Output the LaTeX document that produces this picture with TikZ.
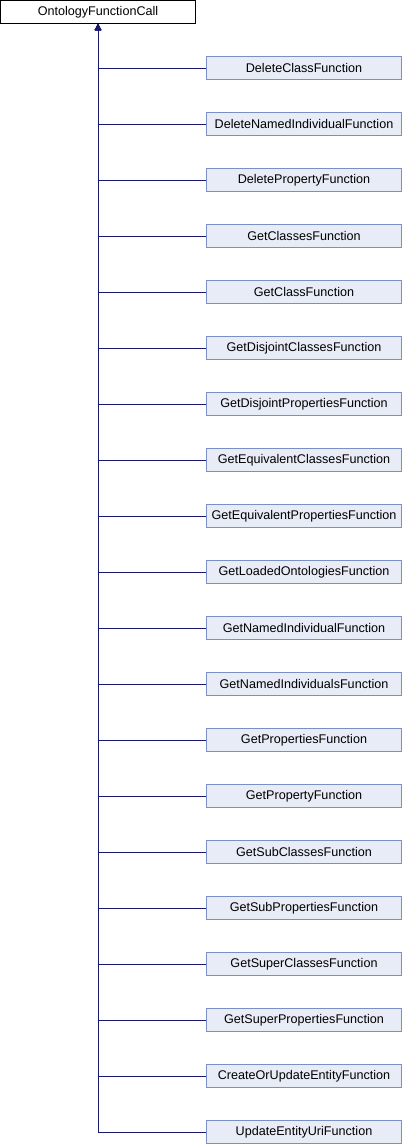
\documentclass[tikz,border=0pt]{standalone}
\usepackage{fontspec}
\setmainfont{Liberation Sans}
\usetikzlibrary{arrows.meta}
\definecolor{edgeblue}{HTML}{191970}
\definecolor{boxfill}{HTML}{E8ECF6}
\definecolor{boxline}{HTML}{7A8FC8}
\tikzset{
  basebox/.style={draw=black, fill=white, line width=1pt, minimum width=195pt, minimum height=23pt, inner sep=0pt, font=\fontsize{12.6}{14}\selectfont},
  childbox/.style={draw=boxline, fill=boxfill, line width=1pt, minimum width=195pt, minimum height=23pt, inner sep=0pt, font=\fontsize{12.6}{14}\selectfont},
  inherit/.style={draw=edgeblue, line width=1pt, -{Triangle[length=6pt,width=6pt]}}
}
\begin{document}
\begin{tikzpicture}[x=1pt,y=-1pt]
\useasboundingbox (0,0) rectangle (402,1144);
\node[basebox] (base) at (98,12) {OntologyFunctionCall};
\foreach \i/\name in {0/DeleteClassFunction,1/DeleteNamedIndividualFunction,2/DeletePropertyFunction,3/GetClassesFunction,4/GetClassFunction,5/GetDisjointClassesFunction,6/GetDisjointPropertiesFunction,7/GetEquivalentClassesFunction,8/GetEquivalentPropertiesFunction,9/GetLoadedOntologiesFunction,10/GetNamedIndividualFunction,11/GetNamedIndividualsFunction,12/GetPropertiesFunction,13/GetPropertyFunction,14/GetSubClassesFunction,15/GetSubPropertiesFunction,16/GetSuperClassesFunction,17/GetSuperPropertiesFunction,18/CreateOrUpdateEntityFunction,19/UpdateEntityUriFunction}{
  \node[childbox] (c\i) at (304,68+56*\i) {\name};
  \draw[inherit] (c\i.west) -| (base.south);
}
\end{tikzpicture}
\end{document}
